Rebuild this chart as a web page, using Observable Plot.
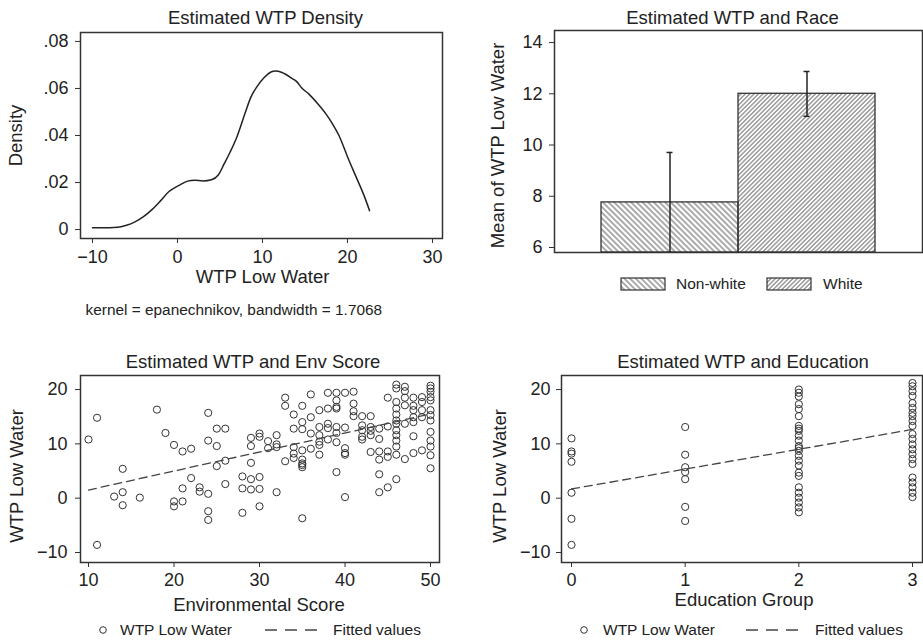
<!DOCTYPE html>
<html><head><meta charset="utf-8">
<script src="https://cdn.jsdelivr.net/npm/d3@7"></script>
<script src="https://cdn.jsdelivr.net/npm/@observablehq/plot@0.6"></script>
<style>
body{margin:0;background:#fff;}
#root{position:relative;width:923px;height:640px;overflow:hidden;font-family:"Liberation Sans",Arial,sans-serif;color:#222;}
.lg{position:absolute;font-size:15.5px;line-height:18px;white-space:nowrap;color:#222;}
</style></head><body>
<svg width="0" height="0" style="position:absolute">
<defs>
<pattern id="hatchNW" patternUnits="userSpaceOnUse" width="4" height="4" patternTransform="rotate(-45)"><line x1="2" y1="-1" x2="2" y2="5" stroke="#444" stroke-width="0.9"/></pattern>
<pattern id="hatchW" patternUnits="userSpaceOnUse" width="3.1" height="3.1" patternTransform="rotate(45)"><line x1="1.55" y1="-1" x2="1.55" y2="4.1" stroke="#444" stroke-width="0.8"/></pattern>
</defs></svg>
<div id="root"></div>
<script>
// ---------- data ----------
const densityX = [-10, -8, -7, -6, -5, -4, -3, -2, -1, -0.4, 0.4, 1.2, 2, 3, 4, 4.8, 5.5, 6.2, 7, 8, 8.6, 9.4, 10.2, 11, 11.5, 12.3, 13.5, 14, 14.6, 15.5, 16.5, 17.5, 18.2, 19, 20, 21, 22, 22.6];
const densityY = [0.0008, 0.0008, 0.0010, 0.0018, 0.0033, 0.0055, 0.0085, 0.0122, 0.0162, 0.0176, 0.0192, 0.0206, 0.0210, 0.0207, 0.0212, 0.0232, 0.0280, 0.0330, 0.0395, 0.0500, 0.0560, 0.0610, 0.0647, 0.0670, 0.0674, 0.0668, 0.0642, 0.0630, 0.0603, 0.0575, 0.0535, 0.0490, 0.0452, 0.0400, 0.0310, 0.0225, 0.0140, 0.0080];
const densityXTicks = [-10, 0, 10, 20, 30];
const densityYTicks = [0, 0.02, 0.04, 0.06, 0.08];

const raceCategories = ["Non-white", "White"];
const raceMean = [7.76, 12.0];
const raceLow = [5.81, 11.12];
const raceHigh = [9.71, 12.87];
const raceYTicks = [6, 8, 10, 12, 14];

const envScore = [10, 11, 11, 13, 14, 14, 14, 16, 18, 19,
  20, 20, 20, 21, 21, 21, 22, 22, 23, 23,
  24, 24, 24, 24, 24, 25, 25, 25, 26, 26, 26,
  28, 28, 28, 29, 29, 29, 29, 29, 30, 30, 30, 30, 30,
  31, 31, 32, 32, 32, 32, 33, 33, 33,
  34, 34, 34, 34, 34, 35, 35, 35, 35, 35, 35, 35, 35, 35,
  36, 36, 36, 36, 37, 37, 37, 37, 37, 37,
  38, 38, 38, 38, 38, 39, 39, 39, 39, 39, 39, 39, 39,
  40, 40, 40, 40, 40, 40, 41, 41, 41, 41,
  42, 42, 42, 42, 42, 43, 43, 43, 43, 43,
  44, 44, 44, 44, 44, 44, 45, 45, 45, 45, 45,
  46, 46, 46, 46, 46, 46, 46, 46, 46, 46, 46, 46, 46,
  47, 47, 47, 47, 47, 47, 48, 48, 48, 48, 48, 48, 48,
  49, 49, 49, 49, 49,
  50, 50, 50, 50, 50, 50, 50, 50, 50, 50, 50, 50, 50];
const envWTP = [10.8, 14.8, -8.6, 0.3, 5.4, 1.1, -1.3, 0.1, 16.3, 12.0,
  9.8, -0.6, -1.5, 8.6, 1.8, -0.6, 9.1, 3.7, 2.0, 1.2,
  15.7, 10.6, 0.8, -2.4, -4.0, 12.8, 9.6, 5.9, 12.8, 6.9, 2.6,
  4.0, 1.8, -2.7, 11.1, 9.6, 6.5, 3.5, 1.6, 11.9, 11.3, 3.9, 1.7, -1.5,
  10.5, 9.2, 11.6, 9.9, 9.4, 1.1, 18.5, 17.0, 6.8,
  15.4, 12.8, 9.4, 8.2, 7.4, 17.0, 14.0, 12.7, 8.8, 7.1, 6.4, 6.1, 5.7, -3.7,
  19.1, 14.9, 11.9, 9.1, 16.2, 13.1, 11.6, 10.4, 9.8, 8.0,
  19.4, 16.5, 13.7, 12.9, 10.8, 19.4, 18.0, 16.8, 16.5, 13.1, 12.0, 10.3, 4.8,
  19.4, 13.0, 9.2, 8.3, 8.0, 0.2, 19.6, 17.4, 16.0, 15.1,
  15.1, 13.4, 12.5, 11.3, 10.8, 15.1, 13.1, 12.4, 11.6, 8.5,
  12.8, 10.9, 8.6, 7.1, 4.4, 1.1, 18.5, 13.2, 8.6, 7.6, 2.0,
  20.9, 20.2, 17.7, 16.5, 15.4, 14.3, 13.7, 12.5, 11.6, 10.6, 9.5, 8.0, 3.5,
  20.5, 19.7, 18.5, 17.1, 13.7, 7.2, 18.5, 17.0, 16.2, 14.9, 14.0, 11.4, 8.3,
  18.6, 17.7, 16.2, 14.9, 8.8,
  20.7, 20.2, 19.6, 18.6, 18.0, 16.2, 15.3, 14.3, 12.2, 10.6, 9.5, 7.9, 5.5];
const envFitX = [10, 50];
const envFitY = [1.5, 15.5];
const envXTicks = [10, 20, 30, 40, 50];
const wtpYTicks = [-10, 0, 10, 20];

const eduGroup = [0, 0, 0, 0, 0, 0, 0,
  1, 1, 1, 1, 1, 1, 1,
  2, 2, 2, 2, 2, 2, 2, 2, 2, 2, 2, 2, 2, 2, 2, 2, 2, 2, 2, 2, 2, 2, 2, 2, 2,
  3, 3, 3, 3, 3, 3, 3, 3, 3, 3, 3, 3, 3, 3, 3, 3, 3, 3, 3, 3, 3, 3];
const eduWTP = [11.0, 8.6, 8.2, 6.7, 1.0, -3.8, -8.6,
  13.1, 8.0, 5.7, 4.8, 3.5, -1.6, -4.2,
  20.0, 19.4, 18.7, 17.3, 16.4, 15.1, 13.3, 12.8, 12.4, 11.5, 10.6, 9.6, 9.2, 8.7, 7.8, 6.9, 6.0, 4.7, 4.1, 2.0, 1.0, 0.1, -0.8, -1.7, -2.6,
  21.2, 20.6, 19.7, 18.8, 17.5, 16.6, 15.7, 15.1, 14.2, 13.3, 11.8, 10.9, 9.9, 9.0, 8.1, 7.2, 6.3, 3.8, 2.9, 2.0, 1.0, 0.2];
const eduFitX = [0, 3];
const eduFitY = [1.7, 12.65];
const eduXTicks = [0, 1, 2, 3];

// ---------- helpers ----------
const root = document.getElementById("root");
const FONT = "Liberation Sans, Arial, sans-serif";
const INK = "#222";
const svgStyle = {fontFamily: FONT, fontSize: "18px", color: INK, background: "transparent", overflow: "visible"};
function place(el, left, top) {
  el.style.position = "absolute";
  el.style.left = left + "px";
  el.style.top = top + "px";
  root.appendChild(el);
}
const frameMark = () => Plot.frame({stroke: "#333", strokeWidth: 1.5});
const label = (txt, opts) => Plot.text([txt], {text: d => d, lineAnchor: "middle", textAnchor: "middle", fill: INK, ...opts});
const intFmt = d3.format("d");

// ---------- panel 1: density ----------
const densityData = densityX.map((x, i) => ({x, y: densityY[i]}));
const p1 = Plot.plot({
  width: 460, height: 300,
  marginLeft: 80, marginRight: 18, marginTop: 32, marginBottom: 62,
  style: svgStyle,
  x: {domain: [-11.41, 31.18]},
  y: {domain: [-0.0038, 0.0838]},
  marks: [
    Plot.axisX({ticks: densityXTicks, tickSize: 5, tickPadding: 7, label: null, stroke: "#333"}),
    Plot.axisY({ticks: densityYTicks, tickSize: 5, tickPadding: 7, label: null, stroke: "#333",
      tickFormat: d => d === 0 ? "0" : d3.format(".2f")(d).replace(/^0/, "")}),
    Plot.line(densityData, {x: "x", y: "y", stroke: INK, strokeWidth: 1.5, curve: "monotone-x"}),
    frameMark(),
    label("Estimated WTP Density", {frameAnchor: "top", dy: -14, dx: 4, fontSize: 18.5}),
    label("WTP Low Water", {frameAnchor: "bottom", dy: 39, dx: 1, fontSize: 18.5}),
    label("Density", {frameAnchor: "left", dx: -64, rotate: -90, fontSize: 18.5}),
    label("kernel = epanechnikov, bandwidth = 1.7068", {frameAnchor: "bottom-left", textAnchor: "start", dx: 5, dy: 72, fontSize: 15.4})
  ]
});
place(p1, 0, 0);

// ---------- panel 2: race bars ----------
const raceData = raceCategories.map((race, i) => ({race, mean: raceMean[i], lo: raceLow[i], hi: raceHigh[i]}));
const raceBase = 5.805;
const p2 = Plot.plot({
  width: 463, height: 300,
  marginLeft: 94, marginRight: 1, marginTop: 30, marginBottom: 48,
  style: svgStyle,
  x: {type: "band", domain: raceCategories, paddingInner: 0, paddingOuter: 0.343, axis: null},
  y: {domain: [raceBase, 14.47]},
  marks: [
    Plot.axisY({ticks: raceYTicks, tickSize: 5, tickPadding: 7, label: null, stroke: "#333"}),
    Plot.barY(raceData.filter(d => d.race === "Non-white"), {x: "race", y1: raceBase, y2: "mean", fill: "url(#hatchNW)", stroke: "#333", strokeWidth: 1.3}),
    Plot.barY(raceData.filter(d => d.race === "White"), {x: "race", y1: raceBase, y2: "mean", fill: "url(#hatchW)", stroke: "#333", strokeWidth: 1.3}),
    Plot.ruleX(raceData, {x: "race", y1: "lo", y2: "hi", stroke: INK, strokeWidth: 1.5, clip: true}),
    Plot.tickY(raceData, {x: "race", y: "hi", stroke: INK, strokeWidth: 1.5, insetLeft: 65.5, insetRight: 65.5}),
    Plot.tickY(raceData, {x: "race", y: "lo", stroke: INK, strokeWidth: 1.5, insetLeft: 65.5, insetRight: 65.5, clip: true}),
    frameMark(),
    label("Estimated WTP and Race", {frameAnchor: "top", dy: -12, dx: -6, fontSize: 18.5}),
    label("Mean of WTP Low Water", {frameAnchor: "left", dx: -56, dy: 4, rotate: -90, fontSize: 18.5})
  ]
});
place(p2, 460, 0);

// ---------- panel 3: env score scatter ----------
const envData = envScore.map((x, i) => ({x, y: envWTP[i]}));
const envFit = envFitX.map((x, i) => ({x, y: envFitY[i]}));
const p3 = Plot.plot({
  width: 460, height: 300,
  marginLeft: 80, marginRight: 21, marginTop: 55, marginBottom: 58,
  style: svgStyle,
  x: {domain: [9.064, 51.05]},
  y: {domain: [-11.84, 22.58]},
  marks: [
    Plot.axisX({ticks: envXTicks, tickSize: 5, tickPadding: 6, label: null, stroke: "#333", tickFormat: intFmt}),
    Plot.axisY({ticks: wtpYTicks, tickSize: 5, tickPadding: 8, label: null, stroke: "#333"}),
    Plot.dot(envData, {x: "x", y: "y", r: 3.6, stroke: "#333", strokeWidth: 1, fill: "none"}),
    Plot.line(envFit, {x: "x", y: "y", stroke: "#444", strokeWidth: 1.3, strokeDasharray: "8,5"}),
    frameMark(),
    label("Estimated WTP and Env Score", {frameAnchor: "top", dy: -13, dx: -7, fontSize: 18.5}),
    label("Environmental Score", {frameAnchor: "bottom", dy: 43, dx: -1, fontSize: 18.5}),
    label("WTP Low Water", {frameAnchor: "left", dx: -63, dy: 7, rotate: -90, fontSize: 18.5})
  ]
});
place(p3, 0, 320);

// ---------- panel 4: education scatter ----------
const eduData = eduGroup.map((x, i) => ({x, y: eduWTP[i]}));
const eduFit = eduFitX.map((x, i) => ({x, y: eduFitY[i]}));
const p4 = Plot.plot({
  width: 463, height: 300,
  marginLeft: 101, marginRight: 1, marginTop: 55, marginBottom: 58,
  style: svgStyle,
  x: {domain: [-0.088, 3.088]},
  y: {domain: [-11.84, 22.58]},
  marks: [
    Plot.axisX({ticks: eduXTicks, tickSize: 5, tickPadding: 6, label: null, stroke: "#333", tickFormat: intFmt}),
    Plot.axisY({ticks: wtpYTicks, tickSize: 5, tickPadding: 6, label: null, stroke: "#333"}),
    Plot.dot(eduData, {x: "x", y: "y", r: 3.6, stroke: "#333", strokeWidth: 1, fill: "none"}),
    Plot.line(eduFit, {x: "x", y: "y", stroke: "#444", strokeWidth: 1.3, strokeDasharray: "8,5"}),
    frameMark(),
    label("Estimated WTP and Education", {frameAnchor: "top", dy: -13, dx: 1, fontSize: 18.5}),
    label("Education Group", {frameAnchor: "bottom", dy: 38, dx: 2, fontSize: 18.5}),
    label("WTP Low Water", {frameAnchor: "left", dx: -61, dy: 7, rotate: -90, fontSize: 18.5})
  ]
});
place(p4, 460, 320);

// ---------- legends ----------
const NS = "http://www.w3.org/2000/svg";
function lgText(txt, left, cy) {
  const d = document.createElement("div");
  d.className = "lg";
  d.textContent = txt;
  place(d, left, cy - 9);
}
function lgSvg(w, h, left, cy, build) {
  const s = document.createElementNS(NS, "svg");
  s.setAttribute("width", w); s.setAttribute("height", h);
  s.style.position = "absolute";
  s.style.left = left + "px"; s.style.top = (cy - h / 2) + "px";
  s.innerHTML = build;
  root.appendChild(s);
}
// race legend
lgSvg(46, 14, 620, 284, '<rect x="1" y="1" width="44" height="12" fill="url(#hatchNW)" stroke="#333" stroke-width="1.2"/>');
lgText(raceCategories[0], 676, 284);
lgSvg(46, 14, 766, 284, '<rect x="1" y="1" width="44" height="12" fill="url(#hatchW)" stroke="#333" stroke-width="1.2"/>');
lgText(raceCategories[1], 823, 284);
// scatter legends
function scatterLegend(circleX, textX, dashX1, dashX2, fitTextX, cy) {
  lgSvg(10, 10, circleX - 5, cy, '<circle cx="5" cy="5" r="3.3" fill="none" stroke="#333" stroke-width="1"/>');
  lgText("WTP Low Water", textX, cy);
  lgSvg(dashX2 - dashX1, 4, dashX1, cy, '<line x1="0" y1="2" x2="' + (dashX2 - dashX1) + '" y2="2" stroke="#444" stroke-width="1.3" stroke-dasharray="12,8"/>');
  lgText("Fitted values", fitTextX, cy);
}
scatterLegend(103, 120, 265, 317, 333, 630);
scatterLegend(584, 603, 746, 800, 815, 630);
</script>
</body></html>
